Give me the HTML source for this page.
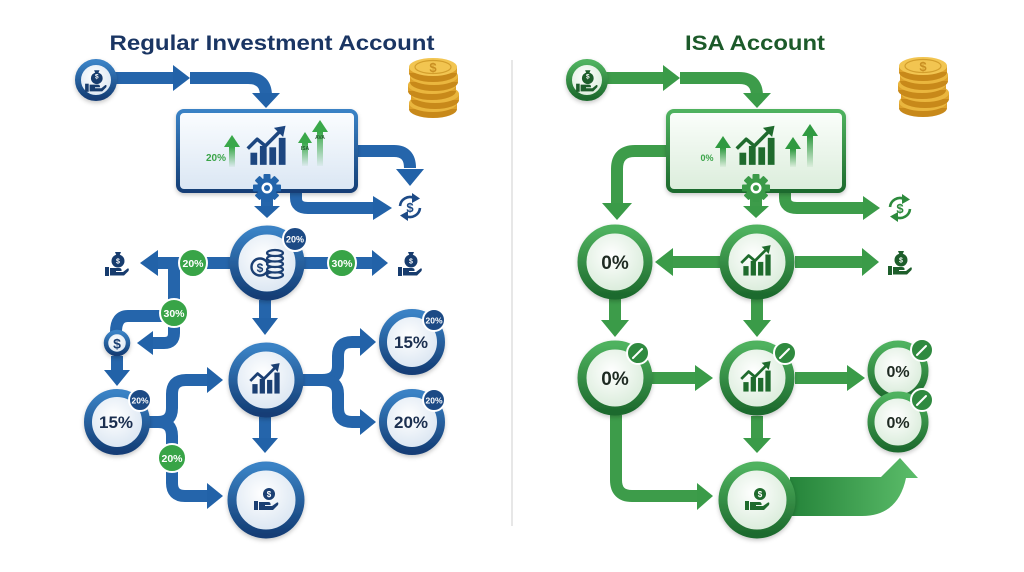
<!DOCTYPE html>
<html><head><meta charset="utf-8"><style>html,body{margin:0;padding:0;background:#fff}svg{display:block}</style></head>
<body>
<svg width="1024" height="572" viewBox="0 0 1024 572" xmlns="http://www.w3.org/2000/svg" font-family="'Liberation Sans', sans-serif">
<defs>
 <linearGradient id="gb" x1="0" y1="0" x2="0" y2="1"><stop offset="0" stop-color="#3a82c5"/><stop offset="1" stop-color="#143e76"/></linearGradient>
 <linearGradient id="gg" x1="0" y1="0" x2="0" y2="1"><stop offset="0" stop-color="#4fb25f"/><stop offset="1" stop-color="#1d6a2d"/></linearGradient>
 <radialGradient id="fb" cx="0.45" cy="0.4" r="0.65"><stop offset="0" stop-color="#ffffff"/><stop offset="1" stop-color="#d5e2f0"/></radialGradient>
 <radialGradient id="fg" cx="0.45" cy="0.4" r="0.65"><stop offset="0" stop-color="#ffffff"/><stop offset="1" stop-color="#d4e9d5"/></radialGradient>
 <linearGradient id="boxb" x1="0" y1="0" x2="0" y2="1"><stop offset="0" stop-color="#fbfdff"/><stop offset="1" stop-color="#dae6f3"/></linearGradient>
 <linearGradient id="boxg" x1="0" y1="0" x2="0" y2="1"><stop offset="0" stop-color="#fbfefb"/><stop offset="1" stop-color="#dbeddb"/></linearGradient>
 <linearGradient id="fade" x1="0" y1="0" x2="0" y2="1"><stop offset="0" stop-color="#3aa84a"/><stop offset="1" stop-color="#3aa84a" stop-opacity="0.05"/></linearGradient>
 <linearGradient id="fadeg" x1="0" y1="0" x2="0" y2="1"><stop offset="0" stop-color="#2f9a40"/><stop offset="1" stop-color="#2f9a40" stop-opacity="0.05"/></linearGradient>
 <linearGradient id="big" x1="0" y1="0" x2="1" y2="0"><stop offset="0" stop-color="#25843a"/><stop offset="1" stop-color="#5cbd6a"/></linearGradient>
 <filter id="sh" x="-30%" y="-30%" width="160%" height="170%"><feDropShadow dx="0" dy="2" stdDeviation="2.2" flood-color="#000" flood-opacity="0.22"/></filter>

 <g id="chart">
  <rect x="-13" y="2" width="5" height="9"/>
  <rect x="-6" y="-3" width="5" height="14"/>
  <rect x="1" y="-2" width="5" height="13"/>
  <rect x="8" y="-9" width="5" height="20"/>
  <polyline points="-15,-1 -8,-8 -2,-3 9,-14" fill="none" stroke="currentColor" stroke-width="2.6" stroke-linejoin="round"/>
  <polygon points="13,-18 11.2,-9.6 4.4,-16.4"/>
 </g>
 <g id="hb">
  <circle cx="2" cy="-3" r="6.5"/>
  <polygon points="-1,-12 5,-12 3.5,-8.5 0.5,-8.5"/>
  <rect x="-11" y="3" width="4" height="9"/>
  <path d="M-6,4 H3 Q6,4 5.5,7 H0 V8 H7 L11.5,4.5 Q13.5,4 12.5,7 L8,11.5 H-6 Z"/>
 </g>
 <g id="hc">
  <circle cx="3" cy="-7" r="6"/>
  <rect x="-12" y="0" width="4" height="9"/>
  <path d="M-7,1 H2 Q5,1 4.5,4 H-1 V5 H6 L11,1.5 Q13,1 12,4 L7,9 H-7 Z"/>
 </g>
 <g id="rf">
  <path d="M-10,-1 A10,10 0 0 1 4,-9.2" fill="none" stroke="currentColor" stroke-width="2.6"/>
  <path d="M10,1 A10,10 0 0 1 -4,9.2" fill="none" stroke="currentColor" stroke-width="2.6"/>
  <polygon points="2,-14 10,-8.5 2,-4"/>
  <polygon points="-2,14 -10,8.5 -2,4"/>
 </g>
 <g id="gear">
  <circle r="10"/>
  <rect x="-3.5" y="-14" width="7" height="28" rx="1"/>
  <rect x="-3.5" y="-14" width="7" height="28" rx="1" transform="rotate(45)"/>
  <rect x="-3.5" y="-14" width="7" height="28" rx="1" transform="rotate(90)"/>
  <rect x="-3.5" y="-14" width="7" height="28" rx="1" transform="rotate(135)"/>
  <circle r="5.5" fill="#fff"/>
  <circle r="3"/>
 </g>
 <g id="coins">
   <ellipse cx="0" cy="42" rx="24" ry="9" fill="#c8891a"/><rect x="-24" y="36" width="48" height="6" fill="#dca02b"/><ellipse cx="0" cy="36" rx="24" ry="9" fill="#eab63e"/>
   <ellipse cx="2" cy="33" rx="24" ry="9" fill="#c8891a"/><rect x="-22" y="27" width="48" height="6" fill="#dca02b"/><ellipse cx="2" cy="27" rx="24" ry="9" fill="#eab63e"/>
   <ellipse cx="-1" cy="24" rx="24" ry="9" fill="#c8891a"/><rect x="-25" y="18" width="48" height="6" fill="#dca02b"/><ellipse cx="-1" cy="18" rx="24" ry="9" fill="#eab63e"/>
   <ellipse cx="1" cy="15" rx="24" ry="9" fill="#c8891a"/><rect x="-23" y="9" width="48" height="6" fill="#dca02b"/><ellipse cx="1" cy="9" rx="24" ry="9" fill="#eab63e"/>
   <ellipse cx="0" cy="6" rx="24" ry="9" fill="#c8891a"/><rect x="-24" y="0" width="48" height="6" fill="#dca02b"/><ellipse cx="0" cy="0" rx="24" ry="9" fill="#f2c551"/>
   <ellipse cx="0" cy="0" rx="18" ry="6.5" fill="none" stroke="#d39e2c" stroke-width="1.2"/>
 </g>
</defs>

<rect width="1024" height="572" fill="#fff"/>
<line x1="512" y1="60" x2="512" y2="526" stroke="#cfcfcf" stroke-width="1"/>

<!-- ================= LEFT ================= -->
<text x="272" y="50" font-size="21" font-weight="bold" fill="#1a3563" text-anchor="middle" textLength="325" lengthAdjust="spacingAndGlyphs">Regular Investment Account</text>

<g fill="none" stroke="#2565ab" stroke-width="12">
 <path d="M115,78 H174"/>
 <path d="M190,78 H248 Q266,78 266,96"/>
 <path d="M357,151 H394 Q410,151 410,168"/>
 <path d="M296,192 V198 Q296,208 308,208 H375"/>
 <path d="M230,263 H157"/>
 <path d="M302,263 H373"/>
 <path d="M174,263 V305"/>
 <path d="M162,316 H128 Q116,316 116,332"/>
 <path d="M174,322 V333 Q174,343 164,343 H152"/>
 <path d="M117,356 V372"/>
 <path d="M149,422 H158 Q172,422 172,408 V394 Q172,380 186,380 H208"/>
 <path d="M158,422 Q172,422 172,436 V483 Q172,496 185,496 H208"/>
 <path d="M265,300 V320"/>
 <path d="M265,417 V440"/>
 <path d="M302,380 H322 Q338,380 338,366 V356 Q338,342 352,342 H361"/>
 <path d="M322,380 Q338,380 338,394 V408 Q338,422 352,422 H361"/>
 <path d="M267,195 V207"/>
</g>
<g fill="#2262a8">
 <polygon points="173,65 190,78 173,91"/>
 <polygon points="252,93 280,93 266,108"/>
 <polygon points="396,169 424,169 410,186"/>
 <polygon points="373,196 392,208 373,220"/>
 <polygon points="254,206 280,206 267,218"/>
 <polygon points="158,250 140,263 158,276"/>
 <polygon points="372,250 388,263 372,276"/>
 <polygon points="153,331 137,343 153,355"/>
 <polygon points="104,370 130,370 117,386"/>
 <polygon points="207,367 223,380 207,393"/>
 <polygon points="207,483 223,496 207,509"/>
 <polygon points="252,318 278,318 265,335"/>
 <polygon points="252,438 278,438 265,453"/>
 <polygon points="360,328 376,342 360,356"/>
 <polygon points="360,409 376,422 360,435"/>
</g>

<!-- start circle -->
<circle cx="96" cy="80" r="18" fill="url(#fb)" stroke="url(#gb)" stroke-width="6" filter="url(#sh)"/>
<use href="#hb" transform="translate(95,81) scale(0.9)" fill="#173c6e"/>
<text x="96.8" y="78.5" font-size="6.5" font-weight="bold" fill="#fff" text-anchor="middle">$</text>

<!-- coins -->
<use href="#coins" transform="translate(433,67)"/>
<text x="433" y="72" font-size="13" font-weight="bold" fill="#c98f22" text-anchor="middle">$</text>

<!-- box -->
<rect x="178" y="111" width="178" height="80" rx="6" fill="url(#boxb)" stroke="url(#gb)" stroke-width="4" filter="url(#sh)"/>
<text x="216" y="161" font-size="10" font-weight="bold" fill="#3aa448" text-anchor="middle">20%</text>
<polygon points="224,147 232,135 240,147" fill="#3aa84a"/><rect x="229" y="147" width="6" height="20" fill="url(#fade)"/>
<polygon points="298,143 305,132 312,143" fill="#3aa84a"/><rect x="302" y="143" width="6" height="23" fill="url(#fade)"/>
<polygon points="312,132 320,120 328,132" fill="#3aa84a"/><rect x="317" y="132" width="6" height="34" fill="url(#fade)"/>
<text x="305" y="150" font-size="5" font-weight="bold" fill="#1e5a2a" text-anchor="middle">ISA</text>
<text x="320" y="139" font-size="5" font-weight="bold" fill="#1e5a2a" text-anchor="middle">AVA</text>
<use href="#chart" transform="translate(268,150) scale(1.35)" fill="#1d4680" style="color:#1d4680"/>
<use href="#gear" transform="translate(267,188)" fill="#2264ab"/>

<!-- refresh -->
<use href="#rf" transform="translate(410,207)" fill="#1d4a86" style="color:#1d4a86"/>
<text x="410" y="212" font-size="13" font-weight="bold" fill="#1d4a86" text-anchor="middle">$</text>

<!-- money bag icons -->
<use href="#hb" transform="translate(116,264)" fill="#173c6e"/>
<text x="118" y="263.5" font-size="7" font-weight="bold" fill="#fff" text-anchor="middle">$</text>
<use href="#hb" transform="translate(409,264)" fill="#173c6e"/>
<text x="411" y="263.5" font-size="7" font-weight="bold" fill="#fff" text-anchor="middle">$</text>

<!-- top circle -->
<circle cx="267" cy="263" r="33" fill="url(#fb)" stroke="url(#gb)" stroke-width="9" filter="url(#sh)"/>
<circle cx="260" cy="267" r="8.5" fill="none" stroke="#1b3f73" stroke-width="2.4"/>
<text x="260" y="272" font-size="12" font-weight="bold" fill="#1b3f73" text-anchor="middle">$</text>
<g fill="#eef3f9" stroke="#1b3f73" stroke-width="2.2">
 <ellipse cx="275" cy="275" rx="8" ry="3"/>
 <ellipse cx="275" cy="269.5" rx="8" ry="3"/>
 <ellipse cx="275" cy="264" rx="8" ry="3"/>
 <ellipse cx="275" cy="258.5" rx="8" ry="3"/>
 <ellipse cx="275" cy="253" rx="8" ry="3"/>
</g>
<circle cx="295" cy="239" r="12" fill="#1c4a85" stroke="#fff" stroke-width="2"/>
<text x="295" y="242.5" font-size="9" font-weight="bold" fill="#fff" text-anchor="middle">20%</text>

<!-- green badges left -->
<g stroke="#fff" stroke-width="2" fill="#38a447">
 <circle cx="193" cy="263" r="14"/>
 <circle cx="342" cy="263" r="14"/>
 <circle cx="174" cy="313" r="14"/>
 <circle cx="172" cy="458" r="14"/>
</g>
<g font-size="10.5" font-weight="bold" fill="#fff" text-anchor="middle">
 <text x="193" y="267">20%</text>
 <text x="342" y="267">30%</text>
 <text x="174" y="317">30%</text>
 <text x="172" y="462">20%</text>
</g>

<!-- $ circle -->
<circle cx="117" cy="343" r="11" fill="url(#fb)" stroke="url(#gb)" stroke-width="4.5" filter="url(#sh)"/>
<text x="117" y="348.5" font-size="14" font-weight="bold" fill="#1b3f73" text-anchor="middle">$</text>

<!-- 15% left -->
<circle cx="117" cy="422" r="29" fill="url(#fb)" stroke="url(#gb)" stroke-width="8" filter="url(#sh)"/>
<text x="116" y="428" font-size="17" font-weight="bold" fill="#1b2f50" text-anchor="middle">15%</text>
<circle cx="140" cy="400" r="11" fill="#1c4a85" stroke="#fff" stroke-width="2"/>
<text x="140" y="403.5" font-size="8.5" font-weight="bold" fill="#fff" text-anchor="middle">20%</text>

<!-- chart circle -->
<circle cx="266" cy="380" r="33" fill="url(#fb)" stroke="url(#gb)" stroke-width="9" filter="url(#sh)"/>
<use href="#chart" transform="translate(266,382) scale(1.05)" fill="#1b3f73" style="color:#1b3f73"/>

<!-- bottom circle -->
<circle cx="266" cy="500" r="34" fill="url(#fb)" stroke="url(#gb)" stroke-width="9" filter="url(#sh)"/>
<use href="#hc" transform="translate(266,501)" fill="#1b3f73"/>
<text x="269" y="497" font-size="8" font-weight="bold" fill="#fff" text-anchor="middle">$</text>

<!-- right circles -->
<circle cx="412" cy="342" r="29" fill="url(#fb)" stroke="url(#gb)" stroke-width="8" filter="url(#sh)"/>
<text x="411" y="348" font-size="17" font-weight="bold" fill="#1b2f50" text-anchor="middle">15%</text>
<circle cx="434" cy="320" r="11" fill="#1c4a85" stroke="#fff" stroke-width="2"/>
<text x="434" y="323.5" font-size="8.5" font-weight="bold" fill="#fff" text-anchor="middle">20%</text>
<circle cx="412" cy="422" r="29" fill="url(#fb)" stroke="url(#gb)" stroke-width="8" filter="url(#sh)"/>
<text x="411" y="428" font-size="17" font-weight="bold" fill="#1b2f50" text-anchor="middle">20%</text>
<circle cx="434" cy="400" r="11" fill="#1c4a85" stroke="#fff" stroke-width="2"/>
<text x="434" y="403.5" font-size="8.5" font-weight="bold" fill="#fff" text-anchor="middle">20%</text>

<!-- ================= RIGHT ================= -->
<text x="755" y="50" font-size="21" font-weight="bold" fill="#1c5a2a" text-anchor="middle" textLength="140" lengthAdjust="spacingAndGlyphs">ISA Account</text>

<path d="M790,477 L881,477 L900,458 L918,478 L906,478 Q898,516 862,516 L790,516 Z" fill="url(#big)"/>

<g fill="none" stroke="#3d9c4a" stroke-width="12">
 <path d="M606,78 H664"/>
 <path d="M680,78 H739 Q757,78 757,96"/>
 <path d="M667,151 H635 Q617,151 617,169 V204"/>
 <path d="M785,192 V198 Q785,208 797,208 H864"/>
 <path d="M720,262 H672"/>
 <path d="M795,262 H863"/>
 <path d="M615,299 V321"/>
 <path d="M757,299 V321"/>
 <path d="M652,378 H696"/>
 <path d="M795,378 H848"/>
 <path d="M757,416 V440"/>
 <path d="M616,415 V480 Q616,496 632,496 H698"/>
 <path d="M756,195 V207"/>
</g>
<g fill="#3a9b48">
 <polygon points="663,65 680,78 663,91"/>
 <polygon points="743,93 771,93 757,108"/>
 <polygon points="602,203 632,203 617,220"/>
 <polygon points="743,206 769,206 756,218"/>
 <polygon points="863,196 880,208 863,220"/>
 <polygon points="673,248 655,262 673,276"/>
 <polygon points="862,248 879,262 862,276"/>
 <polygon points="601,320 629,320 615,337"/>
 <polygon points="743,320 771,320 757,337"/>
 <polygon points="695,365 713,378 695,391"/>
 <polygon points="847,365 865,378 847,391"/>
 <polygon points="743,438 771,438 757,453"/>
 <polygon points="697,483 713,496 697,510"/>
</g>

<!-- start circle -->
<circle cx="587" cy="80" r="18" fill="url(#fg)" stroke="url(#gg)" stroke-width="6" filter="url(#sh)"/>
<use href="#hb" transform="translate(586,81) scale(0.9)" fill="#1d5e2b"/>
<text x="587.8" y="78.5" font-size="6.5" font-weight="bold" fill="#fff" text-anchor="middle">$</text>

<!-- coins -->
<use href="#coins" transform="translate(923,66)"/>
<text x="923" y="71" font-size="13" font-weight="bold" fill="#c98f22" text-anchor="middle">$</text>

<!-- box -->
<rect x="668" y="111" width="176" height="80" rx="6" fill="url(#boxg)" stroke="url(#gg)" stroke-width="4" filter="url(#sh)"/>
<text x="707" y="161" font-size="9" font-weight="bold" fill="#3aa448" text-anchor="middle">0%</text>
<polygon points="715,148 723,136 731,148" fill="#2f9a40"/><rect x="720" y="148" width="6" height="19" fill="url(#fadeg)"/>
<polygon points="785,149 793,137 801,149" fill="#2f9a40"/><rect x="790" y="149" width="6" height="18" fill="url(#fadeg)"/>
<polygon points="802,136 810,124 818,136" fill="#2f9a40"/><rect x="807" y="136" width="6" height="31" fill="url(#fadeg)"/>
<use href="#chart" transform="translate(757,150) scale(1.35)" fill="#1f6b2d" style="color:#1f6b2d"/>
<use href="#gear" transform="translate(756,188)" fill="#3a9a48"/>

<!-- refresh -->
<use href="#rf" transform="translate(900,208)" fill="#2c8a3c" style="color:#2c8a3c"/>
<text x="900" y="213" font-size="13" font-weight="bold" fill="#2c8a3c" text-anchor="middle">$</text>
<!-- money bag -->
<use href="#hb" transform="translate(899,263)" fill="#1d5e2b"/>
<text x="901" y="262.5" font-size="7" font-weight="bold" fill="#fff" text-anchor="middle">$</text>

<!-- row 2 -->
<circle cx="615" cy="262" r="33" fill="url(#fg)" stroke="url(#gg)" stroke-width="9" filter="url(#sh)"/>
<text x="615" y="269" font-size="19" font-weight="bold" fill="#1e2a22" text-anchor="middle">0%</text>
<circle cx="757" cy="262" r="33" fill="url(#fg)" stroke="url(#gg)" stroke-width="9" filter="url(#sh)"/>
<use href="#chart" transform="translate(757,264) scale(1.05)" fill="#1f6b2d" style="color:#1f6b2d"/>

<!-- row 3 -->
<circle cx="615" cy="378" r="33" fill="url(#fg)" stroke="url(#gg)" stroke-width="9" filter="url(#sh)"/>
<text x="615" y="385" font-size="19" font-weight="bold" fill="#1e2a22" text-anchor="middle">0%</text>
<circle cx="757" cy="378" r="33" fill="url(#fg)" stroke="url(#gg)" stroke-width="9" filter="url(#sh)"/>
<use href="#chart" transform="translate(757,380) scale(1.05)" fill="#1f6b2d" style="color:#1f6b2d"/>

<circle cx="898" cy="371" r="27" fill="url(#fg)" stroke="url(#gg)" stroke-width="7" filter="url(#sh)"/>
<text x="898" y="377" font-size="16" font-weight="bold" fill="#1e2a22" text-anchor="middle">0%</text>
<circle cx="898" cy="422" r="27" fill="url(#fg)" stroke="url(#gg)" stroke-width="7" filter="url(#sh)"/>
<text x="898" y="428" font-size="16" font-weight="bold" fill="#1e2a22" text-anchor="middle">0%</text>

<!-- bottom -->
<circle cx="757" cy="500" r="34" fill="url(#fg)" stroke="url(#gg)" stroke-width="9" filter="url(#sh)"/>
<use href="#hc" transform="translate(757,501)" fill="#1f6b2d"/>
<text x="760" y="497" font-size="8" font-weight="bold" fill="#fff" text-anchor="middle">$</text>

<!-- pencil badges -->
<g>
 <circle cx="638" cy="353" r="11" fill="#2f8a3f" stroke="#fff" stroke-width="2"/>
 <circle cx="785" cy="353" r="11" fill="#2f8a3f" stroke="#fff" stroke-width="2"/>
 <circle cx="922" cy="350" r="11" fill="#2f8a3f" stroke="#fff" stroke-width="2"/>
 <circle cx="922" cy="400" r="11" fill="#2f8a3f" stroke="#fff" stroke-width="2"/>
 <g stroke="#fff" stroke-width="2" stroke-linecap="round">
  <line x1="633" y1="358" x2="642" y2="349"/>
  <line x1="780" y1="358" x2="789" y2="349"/>
  <line x1="917" y1="355" x2="926" y2="346"/>
  <line x1="917" y1="405" x2="926" y2="396"/>
 </g>
</g>
</svg>
</body></html>
